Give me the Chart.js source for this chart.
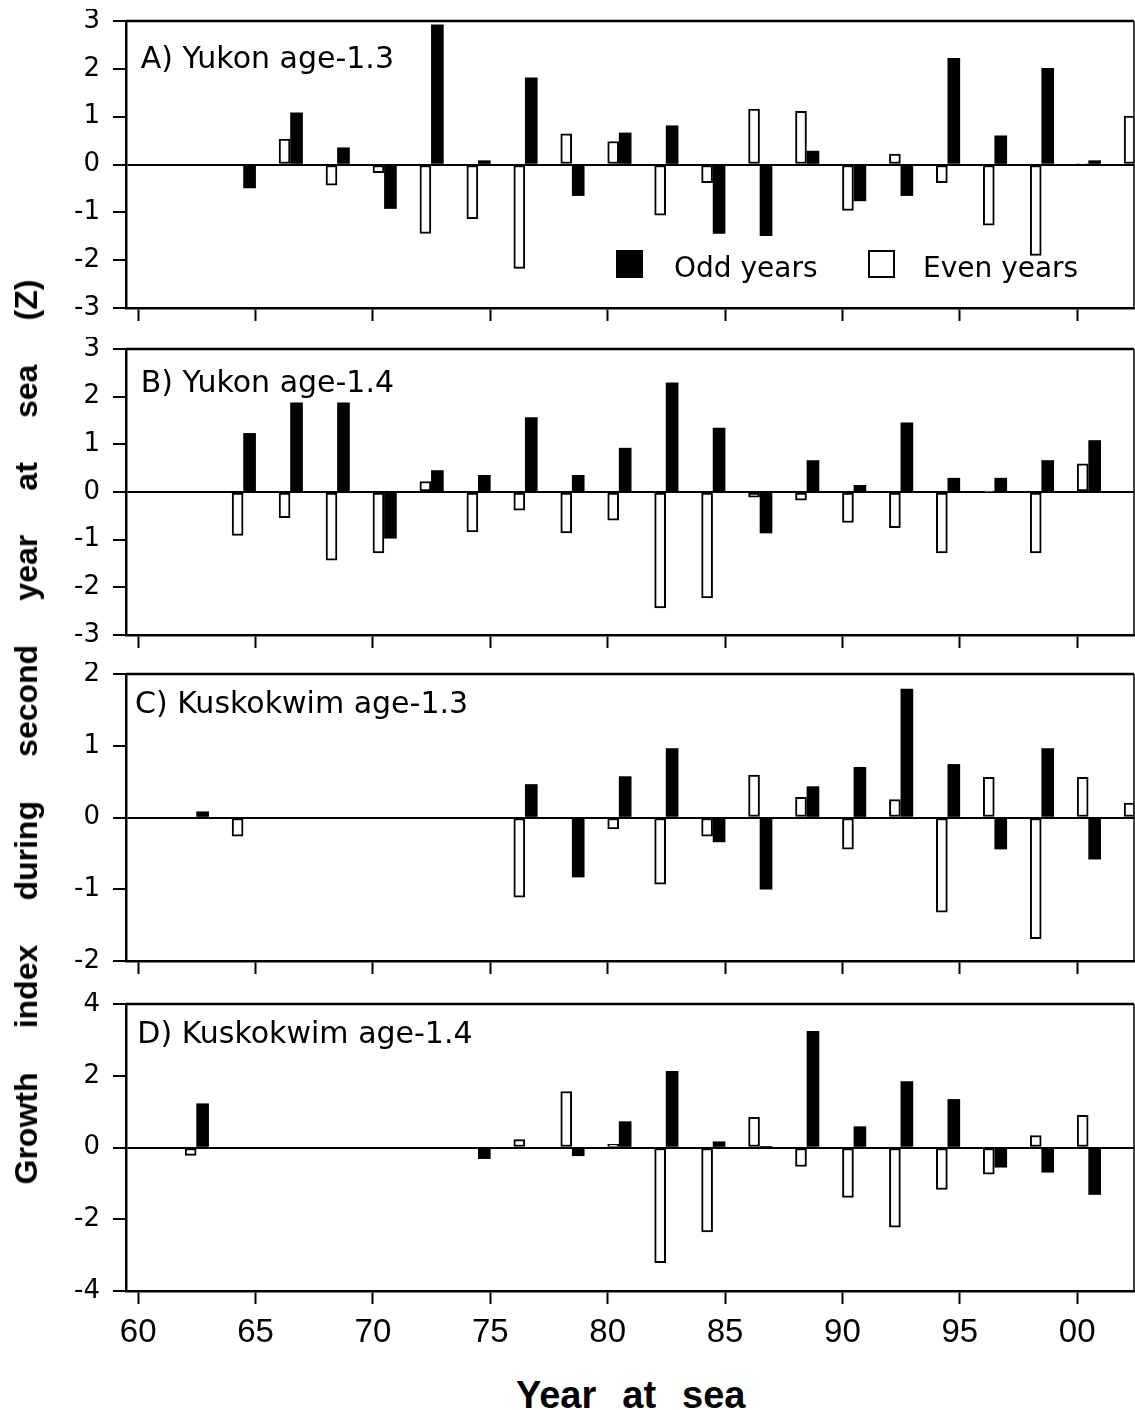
<!DOCTYPE html>
<html>
<head>
<meta charset="utf-8">
<script src="https://cdn.jsdelivr.net/npm/chart.js@4.4.0/dist/chart.umd.min.js"></script>
<style>
  body { margin: 0; background: #fff; }
  #wrap { position: relative; width: 1135px; height: 1410px; overflow: hidden; background: #fff; }
  canvas { position: absolute; left: 0; }
  .ttl { position: absolute; white-space: nowrap; font-family: "Liberation Sans", Arial, sans-serif; font-weight: bold; color: #000; line-height: 1; }
</style>
</head>
<body>
<div id="wrap">
  <canvas id="pA" width="1135" height="319" style="top:9px"></canvas>
  <canvas id="pB" width="1135" height="318" style="top:337px"></canvas>
  <canvas id="pC" width="1135" height="319" style="top:662px"></canvas>
  <canvas id="pD" width="1135" height="368" style="top:992px"></canvas>
  <div id="ytitle" class="ttl">Growth index during second year at sea (Z)</div>
  <div id="xtitle" class="ttl">Year at sea</div>
</div>
<script>
// years at sea (1900s, 100 = 2000)
var oddYears  = [63, 65, 67, 69, 71, 73, 75, 77, 79, 81, 83, 85, 87, 89, 91, 93, 95, 97, 99, 101];
var evenYears = [62, 64, 66, 68, 70, 72, 74, 76, 78, 80, 82, 84, 86, 88, 90, 92, 94, 96, 98, 100, 102];

var yukon13Odd  = [null, -0.49, 1.08, 0.35, -0.92, 2.92, 0.08, 1.81, -0.65, 0.66, 0.81, -1.44, -1.49, 0.28, -0.76, -0.65, 2.22, 0.60, 2.01, 0.08];
var yukon13Even = [null, null, 0.53, -0.43, -0.17, -1.44, -1.13, -2.17, 0.64, 0.48, -1.06, -0.38, 1.16, 1.11, -0.96, 0.22, -0.38, -1.27, -1.90, 0.02, 1.01];

var yukon14Odd  = [null, 1.23, 1.87, 1.87, -0.97, 0.45, 0.35, 1.56, 0.35, 0.92, 2.29, 1.34, -0.86, 0.66, 0.14, 1.45, 0.29, 0.29, 0.66, 1.08];
var yukon14Even = [null, -0.91, -0.54, -1.43, -1.28, 0.22, -0.84, -0.38, -0.86, -0.59, -2.43, -2.22, -0.11, -0.17, -0.64, -0.75, -1.28, 0.01, -1.28, 0.59, null];

var kusko13Odd  = [0.08, null, null, null, null, null, null, 0.46, -0.83, 0.57, 0.96, -0.34, -1.00, 0.43, 0.70, 1.79, 0.74, -0.44, 0.96, -0.58];
var kusko13Even = [null, -0.26, null, null, null, null, null, -1.11, null, -0.16, -0.93, -0.26, 0.59, 0.28, -0.44, 0.25, -1.32, 0.56, -1.69, 0.56, 0.20];

var kusko14Odd  = [1.22, null, null, null, null, null, -0.31, null, -0.23, 0.72, 2.12, 0.16, 0.01, 3.24, 0.58, 1.84, 1.34, -0.55, -0.69, -1.31];
var kusko14Even = [-0.22, null, null, null, null, null, null, 0.22, 1.56, 0.09, -3.21, -2.35, 0.84, -0.53, -1.39, -2.22, -1.17, -0.74, 0.33, 0.90, null];

var tickYears  = [60, 65, 70, 75, 80, 85, 90, 95, 100];
var tickLabels = ['60', '65', '70', '75', '80', '85', '90', '95', '00'];

var frame = {
  id: 'frame',
  afterDatasetsDraw: function (chart) {
    var ctx = chart.ctx, a = chart.chartArea;
    ctx.save();
    ctx.strokeStyle = '#000';
    ctx.lineWidth = 2.5;
    ctx.beginPath();
    ctx.moveTo(a.left, a.top);
    ctx.lineTo(a.right, a.top);
    ctx.stroke();
    ctx.lineWidth = 1.5;
    ctx.beginPath();
    ctx.moveTo(a.right, a.top);
    ctx.lineTo(a.right, a.bottom);
    ctx.stroke();
    ctx.restore();
  }
};

var panelLabel = {
  id: 'panelLabel',
  afterDatasetsDraw: function (chart, args, opts) {
    var ctx = chart.ctx, a = chart.chartArea;
    ctx.save();
    ctx.fillStyle = '#000';
    ctx.font = '30px "DejaVu Sans"';
    ctx.textBaseline = 'alphabetic';
    ctx.fillText(opts.text, a.left + opts.dx, a.top + opts.dy);
    ctx.restore();
  }
};

// legend box drawn inside panel A
var oddEvenLegend = {
  id: 'oddEvenLegend',
  afterDatasetsDraw: function (chart, args, opts) {
    if (!opts.show) return;
    var ctx = chart.ctx, a = chart.chartArea;
    var spots = [{bx: 490, tx: 548}, {bx: 742, tx: 797}];
    ctx.save();
    ctx.font = '28px "DejaVu Sans"';
    ctx.textBaseline = 'alphabetic';
    chart.data.datasets.forEach(function (ds, i) {
      var s = spots[i];
      var x = a.left + s.bx, y = a.top + 229;
      ctx.fillStyle = ds.backgroundColor;
      ctx.fillRect(x, y, 27, 28);
      if (ds.borderWidth) {
        ctx.strokeStyle = ds.borderColor;
        ctx.lineWidth = 2;
        ctx.strokeRect(x + 1, y + 1, 25, 26);
      }
      ctx.fillStyle = '#000';
      ctx.fillText(ds.label, a.left + s.tx, a.top + 255.5);
    });
    ctx.restore();
  }
};

function makePanel(id, label, dx, dy, odd, even, yMin, yMax, yStep, showX, legend) {
  new Chart(document.getElementById(id), {
    type: 'bar',
    data: {
      datasets: [
        {
          label: 'Odd years',
          data: oddYears.map(function (x, i) { return {x: x, y: odd[i]}; }),
          backgroundColor: '#000',
          borderWidth: 0,
          barThickness: 12
        },
        {
          label: 'Even years',
          data: evenYears.map(function (x, i) { return {x: x, y: even[i]}; }),
          backgroundColor: '#fff',
          borderColor: '#000',
          borderWidth: 2,
          borderSkipped: false,
          barThickness: 11
        }
      ]
    },
    options: {
      responsive: false,
      animation: false,
      layout: {padding: {top: 12, left: 0, right: 1, bottom: 0}},
      plugins: {
        legend: {display: false},
        tooltip: {enabled: false},
        panelLabel: {text: label, dx: dx, dy: dy},
        oddEvenLegend: {show: legend}
      },
      scales: {
        x: {
          type: 'linear',
          min: 59.48,
          max: 102.42,
          offset: false,
          afterFit: function (s) {
            s.height = showX ? 69 : 20;
            s.paddingLeft = 0;
            s.paddingRight = 0;
          },
          grid: {offset: false, drawOnChartArea: false, drawTicks: true, tickLength: 13, tickWidth: 2, tickColor: '#000'},
          border: {display: true, width: 2.5, color: '#000'},
          ticks: {
            display: showX,
            stepSize: 5,
            includeBounds: false,
            autoSkip: false,
            maxRotation: 0,
            padding: 9,
            color: '#000',
            font: {family: '"Liberation Sans", Arial, sans-serif', size: 33},
            callback: function (v) {
              var k = tickYears.indexOf(v);
              return k < 0 ? '' : tickLabels[k];
            }
          }
        },
        y: {
          min: yMin,
          max: yMax,
          afterFit: function (s) {
            s.width = 126;
            s.paddingTop = 0;
            s.paddingBottom = 0;
          },
          grid: {
            color: function (c) { return c.tick && c.tick.value === 0 ? '#000' : 'rgba(0,0,0,0)'; },
            lineWidth: 2,
            drawTicks: true,
            tickLength: 13,
            tickWidth: 2,
            tickColor: '#000'
          },
          border: {display: true, width: 2.5, color: '#000'},
          ticks: {
            stepSize: yStep,
            padding: 13,
            color: '#000',
            font: {family: '"DejaVu Sans", sans-serif', size: 26}
          }
        }
      }
    },
    plugins: [frame, panelLabel, oddEvenLegend]
  });
}

makePanel('pA', 'A) Yukon age-1.3', 14.7, 47.3, yukon13Odd, yukon13Even, -3, 3, 1, false, true);
makePanel('pB', 'B) Yukon age-1.4', 14.7, 42.7, yukon14Odd, yukon14Even, -3, 3, 1, false, false);
makePanel('pC', 'C) Kuskokwim age-1.3', 9, 39.3, kusko13Odd, kusko13Even, -2, 2, 1, false, false);
makePanel('pD', 'D) Kuskokwim age-1.4', 11.3, 39.3, kusko14Odd, kusko14Even, -4, 4, 2, true, false);

// spread the words of the axis titles to the reference length
function spreadWords(el, target) {
  var gaps = el.textContent.split(' ').length - 1;
  el.style.wordSpacing = '0px';
  var w = el.offsetWidth;
  el.style.wordSpacing = ((target - w) / gaps) + 'px';
}

var yt = document.getElementById('ytitle');
yt.style.fontSize = '32px';
spreadWords(yt, 905);
yt.style.left = '26px';
yt.style.top = '732px';
yt.style.transform = 'translate(-50%, -50%) rotate(-90deg)';

var xt = document.getElementById('xtitle');
xt.style.fontSize = '38px';
spreadWords(xt, 230);
xt.style.left = '630.7px';
xt.style.top = '1376px';
xt.style.transform = 'translateX(-50%)';
</script>
</body>
</html>
